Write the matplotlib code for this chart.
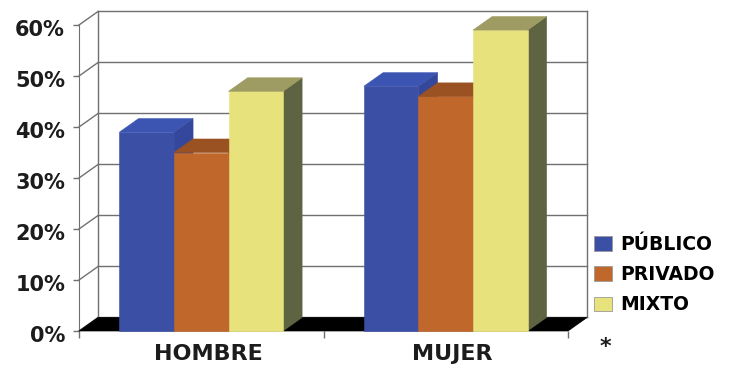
import matplotlib
matplotlib.use("Agg")
import matplotlib.pyplot as plt
import matplotlib.transforms as mtransforms
from matplotlib.patches import Polygon, Patch

# datos
groups = ["HOMBRE", "MUJER"]
series = ["PÚBLICO", "PRIVADO", "MIXTO"]
publico = [39, 48]
privado = [35, 46]
mixto = [47, 59]
yticks = [0, 10, 20, 30, 40, 50, 60]

# estilo
FRONT = ["#3b4fa5", "#c0682c", "#e8e27c"]
TOP = ["#3d55b2", "#9a5222", "#9e9c62"]
SIDE = ["#34479a", "#8a4a1e", "#5e6442"]
GRID = "#707070"
DX = 0.078   # desplazamiento de profundidad en x (unidades de categoria)
DY = 2.65    # desplazamiento de profundidad en y (%)
W = 0.223    # ancho de cada barra
FONT = "DejaVu Sans"
TXT = "#1c1c1c"


def bar3d(ax, x0, h, i):
    x1 = x0 + W
    side = [(x1, 0), (x1 + DX, DY), (x1 + DX, h + DY), (x1, h)]
    front = [(x0, 0), (x1, 0), (x1, h), (x0, h)]
    top = [(x0, h), (x1, h), (x1 + DX, h + DY), (x0 + DX, h + DY)]
    for pts, col in ((side, SIDE[i]), (front, FRONT[i]), (top, TOP[i])):
        ax.add_patch(Polygon(pts, closed=True, facecolor=col, edgecolor=col,
                             lw=0.4, clip_on=False, zorder=3))


fig = plt.figure(figsize=(7.33, 3.65), dpi=100)
ax = fig.add_axes([79 / 733, 34 / 365, 489 / 733, 306 / 365])
ax.set_xlim(0, 2)
ax.set_ylim(0, 60)
n = len(groups)

# pared del fondo y lineas de cuadricula
for v in yticks:
    ax.plot([DX, n + DX], [v + DY, v + DY], color=GRID, lw=1, clip_on=False, zorder=1)
    ax.plot([0, DX], [v, v + DY], color=GRID, lw=1, clip_on=False, zorder=1)
for xe in (DX, n + DX):
    ax.plot([xe, xe], [DY, 60 + DY], color=GRID, lw=1, clip_on=False, zorder=1)

# piso
ax.add_patch(Polygon([(0, 0), (n, 0), (n + DX, DY), (DX, DY)], closed=True,
                     facecolor="black", edgecolor="black", lw=0.5,
                     clip_on=False, zorder=2))

# barras
values = [publico, privado, mixto]
for g in range(n):
    start = g + 0.5 - 1.5 * W
    for i, vals in enumerate(values):
        bar3d(ax, start + i * W, vals[g], i)

# ejes
for s in ("top", "right", "bottom"):
    ax.spines[s].set_visible(False)
ax.spines["left"].set_color(GRID)
ax.spines["left"].set_zorder(1)

ax.set_yticks(yticks)
ax.set_yticklabels([f"{v}%" for v in yticks], fontsize=15, fontweight="bold",
                   family=FONT, color=TXT)
ax.tick_params(axis="y", length=4, width=1, color=GRID, pad=6)
shift = mtransforms.ScaledTranslation(0, -3 / 100, fig.dpi_scale_trans)
for lab in ax.get_yticklabels():
    lab.set_transform(lab.get_transform() + shift)

ax.set_xticks([g + 0.528 for g in range(n)])
ax.set_xticklabels(groups, fontsize=16, fontweight="bold", family=FONT, color=TXT)
ax.set_xticks(range(n + 1), minor=True)
ax.tick_params(axis="x", which="major", length=0, pad=9)
ax.tick_params(axis="x", which="minor", length=5, width=1, color=GRID)

# leyenda
handles = [Patch(facecolor=FRONT[i], edgecolor="#9a9a9a", lw=0.6) for i in range(3)]
fig.legend(handles, series, loc="upper left", bbox_to_anchor=(594 / 733, 1 - 235 / 365),
           frameon=False, borderpad=0, borderaxespad=0, handlelength=0.95,
           handleheight=0.85, handletextpad=0.45, labelspacing=0.6,
           prop={"family": FONT, "weight": "bold", "size": 13.5})

fig.text(605 / 733, 1 - 347 / 365, "*", ha="center", va="center",
         fontsize=16, fontweight="bold", family=FONT, color=TXT)

fig.savefig("out.png", dpi=100)
